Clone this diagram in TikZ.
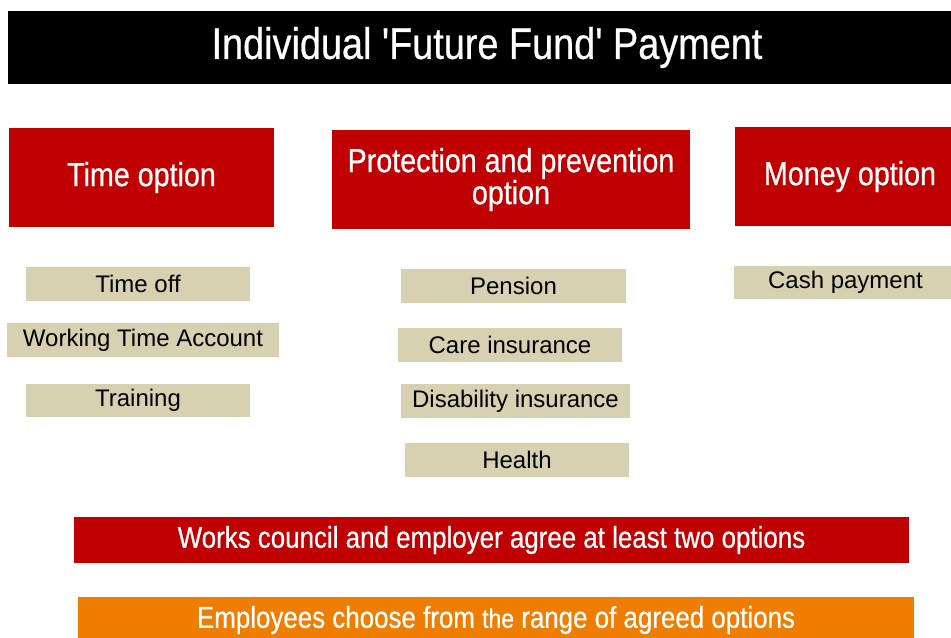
\documentclass[tikz,border=0pt]{standalone}
\usepackage{fontspec}
\setmainfont{Liberation Sans}
\newfontfamily\narrowfont[FakeStretch=0.86, FakeBold=0.6]{Liberation Sans}

\definecolor{optred}{RGB}{192,0,0}
\definecolor{itembeige}{RGB}{215,209,178}
\definecolor{choiceorange}{RGB}{238,125,0}

\tikzset{
    boxsize/.style 2 args={minimum width=#1*0.75pt, minimum height=#2*0.75pt},
    headbox/.style={fill=black, text=white, inner sep=0pt, font=\narrowfont\fontsize{33}{35}\selectfont},
    optbox/.style={fill=optred, text=white, inner sep=0pt, align=center, font=\narrowfont\fontsize{25}{24}\selectfont},
    itembox/.style={fill=itembeige, text=black, inner sep=0pt, font=\fontsize{18}{20}\selectfont},
    rulebox/.style={fill=#1, text=white, inner sep=0pt, font=\narrowfont\fontsize{22.6}{24}\selectfont}
}

\begin{document}
\begin{tikzpicture}[x=0.75pt, y=0.75pt]
\useasboundingbox (0,0) rectangle (951,-637);

% Title bar
\node[headbox, boxsize={958}{73}] (title) at (487,-47.5) {Individual 'Future Fund' Payment};

% The three options
\node[optbox, boxsize={265}{99}] (time) at (141.5,-177.5) {Time option};
\node[optbox, boxsize={358}{99}] (prot) at (511,-179.5) {Protection and prevention\\option};
\node[optbox, boxsize={230}{99}] (money) at (850,-176.5) {Money option};

% Items under each option
\node[itembox, boxsize={224}{34}] (timeoff) at (138,-284) {Time off};
\node[itembox, boxsize={272}{34}] (account) at (143,-340) {Working Time Account};
\node[itembox, boxsize={224}{33}] (training) at (138,-400.5) {Training};

\node[itembox, boxsize={225}{34}] (pension) at (513.5,-286) {Pension};
\node[itembox, boxsize={224}{34}] (care) at (510,-345) {Care insurance};
\node[itembox, boxsize={229}{34}] (disability) at (515.5,-401) {Disability insurance};
\node[itembox, boxsize={224}{34}] (health) at (517,-460) {Health};

\node[itembox, boxsize={223}{33}] (cash) at (845.5,-282.5) {Cash payment};

% Agreement and choice
\node[rulebox=optred, boxsize={835}{46}] (agree) at (491.5,-540) {Works council and employer agree at least two options};
\node[rulebox=choiceorange, boxsize={836}{46}] (choose) at (496,-620) {Employees choose from {\fontsize{20}{22}\selectfont the} range of agreed options};

\end{tikzpicture}
\end{document}
